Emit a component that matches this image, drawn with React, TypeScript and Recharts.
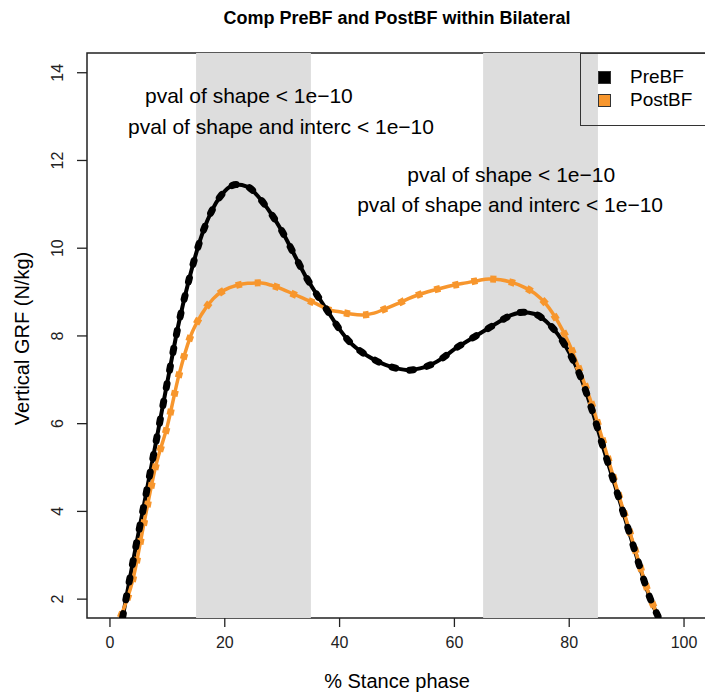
import { LineChart, Line, XAxis, YAxis, ReferenceArea, ReferenceDot, Legend, Label } from "recharts";

// % stance phase / vertical GRF (N/kg)
const preX = [2.2, 4, 6, 8, 10, 12, 14, 16, 18, 20, 22, 24, 26, 28, 30, 32, 34, 36, 38, 40, 42, 44, 46, 48, 50, 52, 54, 56, 58, 60, 62, 64, 66, 68, 70, 72, 74, 76, 78, 80, 82, 84, 86, 88, 90, 92, 94, 95.5];
const preY = [1.58, 2.85, 4.2, 5.57, 6.95, 8.3, 9.4, 10.3, 10.92, 11.3, 11.45, 11.4, 11.15, 10.8, 10.38, 9.88, 9.38, 8.95, 8.55, 8.15, 7.83, 7.62, 7.46, 7.34, 7.26, 7.22, 7.26, 7.35, 7.5, 7.7, 7.86, 8.02, 8.18, 8.34, 8.48, 8.54, 8.5, 8.33, 8.04, 7.62, 7.06, 6.3, 5.42, 4.58, 3.72, 2.86, 2.05, 1.6];
const postX = [1.8, 4, 6, 8, 10, 12, 14, 16, 18, 20, 22, 24, 26, 28, 30, 32, 34, 36, 38, 40, 42, 44, 46, 48, 50, 52, 54, 56, 58, 60, 62, 64, 66, 68, 70, 72, 74, 76, 78, 80, 82, 84, 86, 88, 90, 92, 94, 95.5];
const postY = [1.58, 2.45, 3.78, 5.05, 5.95, 7.1, 7.98, 8.5, 8.85, 9.05, 9.15, 9.2, 9.21, 9.16, 9.07, 8.95, 8.84, 8.73, 8.6, 8.55, 8.5, 8.48, 8.52, 8.62, 8.73, 8.85, 8.95, 9.03, 9.1, 9.16, 9.21, 9.26, 9.3, 9.28, 9.22, 9.12, 8.97, 8.72, 8.33, 7.82, 7.15, 6.42, 5.55, 4.65, 3.78, 2.9, 2.07, 1.6];

const xTicks = [0, 20, 40, 60, 80, 100];
const yTicks = [2, 4, 6, 8, 10, 12, 14];
const bands = [
  [15, 35],
  [65, 85],
];
const notes = [
  { x: 24.2, y: 13.48, text: "pval of shape < 1e\u221210" },
  { x: 29.8, y: 12.77, text: "pval of shape and interc < 1e\u221210" },
  { x: 69.9, y: 11.68, text: "pval of shape < 1e\u221210" },
  { x: 69.7, y: 11.0, text: "pval of shape and interc < 1e\u221210" },
];
const seriesNames = ["PreBF", "PostBF"];

const BLACK = "#000000";
const ORANGE = "#F7962D";
const FONT = "'Liberation Sans', Arial, sans-serif";

const preData = preX.map((x, i) => ({ x, grf: preY[i] }));
const postData = postX.map((x, i) => ({ x, grf: postY[i] }));

function XTick({ x, y, payload }: any) {
  return (
    <text x={x} y={y + 21} textAnchor="middle" fontSize={16} fill="#222" fontFamily={FONT}>
      {payload.value}
    </text>
  );
}

function YTick({ x, y, payload }: any) {
  const bx = x - 14;
  return (
    <text x={bx} y={y} transform={`rotate(-90, ${bx}, ${y})`} textAnchor="middle" fontSize={16} fill="#222" fontFamily={FONT}>
      {payload.value}
    </text>
  );
}

function YTitle({ viewBox }: any) {
  const cy = viewBox.y + viewBox.height / 2 + 3;
  return (
    <text x={29} y={cy} transform={`rotate(-90, 29, ${cy})`} textAnchor="middle" fontSize={20} fill="#000" fontFamily={FONT}>
      Vertical GRF (N/kg)
    </text>
  );
}

function XTitle({ viewBox }: any) {
  const cx = viewBox.x + viewBox.width / 2;
  return (
    <text x={cx} y={viewBox.y + 70} textAnchor="middle" fontSize={20} fill="#000" fontFamily={FONT}>
      % Stance phase
    </text>
  );
}

// legend box runs past the right edge of the picture, like the plot frame
function LegendBox() {
  const colors = [BLACK, ORANGE];
  return (
    <div
      style={{
        width: 140,
        height: 73,
        borderTop: "1px solid #333",
        borderLeft: "1px solid #333",
        borderBottom: "1px solid #333",
        boxSizing: "border-box",
        position: "relative",
        fontFamily: FONT,
      }}
    >
      {seriesNames.map((name, i) => (
        <div key={name} style={{ position: "absolute", left: 17, top: 13 + i * 23, display: "flex", alignItems: "center", height: 20 }}>
          <span style={{ display: "inline-block", width: 11, height: 11, background: colors[i], border: "1px solid #333" }} />
          <span style={{ marginLeft: 19, fontSize: 19, color: "#000" }}>{name}</span>
        </div>
      ))}
    </div>
  );
}

export default function App() {
  if (typeof document !== "undefined") document.body.style.margin = "0";
  return (
    <div style={{ width: 705, height: 693, overflow: "hidden", position: "relative", background: "#fff", fontFamily: FONT }}>
      <div style={{ position: "absolute", top: 0, left: 0, width: 794, textAlign: "center", lineHeight: "36px", fontSize: 18, fontWeight: "bold", color: "#000" }}>
        Comp PreBF and PostBF within Bilateral
      </div>
      <LineChart width={710} height={693} margin={{ top: 53, right: 3, bottom: 0, left: 0 }}>
        <XAxis
          type="number"
          dataKey="x"
          domain={[-4, 104]}
          ticks={xTicks}
          allowDataOverflow
          axisLine={false}
          tickSize={9}
          tickMargin={0}
          tickLine={{ stroke: "#222", strokeWidth: 1.3 }}
          tick={<XTick />}
          height={75}
        >
          <Label content={<XTitle />} />
        </XAxis>
        <YAxis
          type="number"
          domain={[1.57, 14.45]}
          ticks={yTicks}
          allowDataOverflow
          axisLine={false}
          tickSize={10}
          tickMargin={0}
          tickLine={{ stroke: "#222", strokeWidth: 1.3 }}
          tick={<YTick />}
          width={87}
        >
          <Label content={<YTitle />} />
        </YAxis>
        <ReferenceArea x1={-4} x2={104} y1={1.57} y2={14.45} fill="none" stroke="#222" strokeWidth={1.5} ifOverflow="visible" />
        {bands.map(([a, b]) => (
          <ReferenceArea key={a} x1={a} x2={b} fill="#DDDDDD" fillOpacity={1} stroke="none" />
        ))}
        {notes.map((n, i) => (
          <ReferenceDot
            key={i}
            x={n.x}
            y={n.y}
            r={0}
            fill="none"
            stroke="none"
            label={{ value: n.text, position: "center", fontSize: 21, fill: "#000", fontFamily: FONT }}
          />
        ))}
        <Legend
          layout="vertical"
          align="center"
          verticalAlign="middle"
          wrapperStyle={{ top: 53, left: 580, width: 140 }}
          content={<LegendBox />}
        />
        <Line data={preData} dataKey="grf" name="PreBF" type="monotone" stroke={BLACK} strokeWidth={4} dot={false} isAnimationActive={false} legendType="none" />
        <Line data={postData} dataKey="grf" name="PostBF" type="monotone" stroke={ORANGE} strokeWidth={3.5} dot={false} isAnimationActive={false} legendType="none" />
        <Line data={postData} dataKey="grf" name="PostBF band" type="monotone" stroke={ORANGE} strokeWidth={7} strokeDasharray="6 13" dot={false} isAnimationActive={false} legendType="none" />
        <Line data={preData} dataKey="grf" name="PreBF band" type="monotone" stroke={BLACK} strokeWidth={7} strokeDasharray="4 14" strokeLinecap="round" dot={false} isAnimationActive={false} legendType="none" />
      </LineChart>
    </div>
  );
}
